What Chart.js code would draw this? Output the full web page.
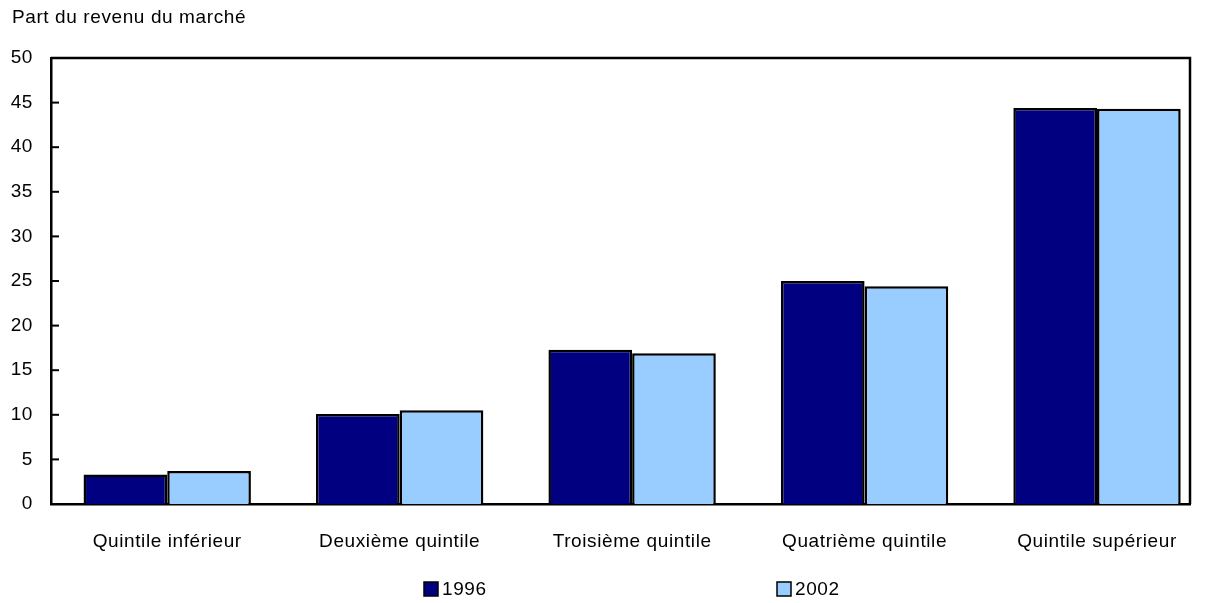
<!DOCTYPE html>
<html lang="fr">
<head>
<meta charset="utf-8">
<title>Part du revenu du marché</title>
<script src="https://cdn.jsdelivr.net/npm/chart.js@4/dist/chart.umd.min.js"></script>
<style>
  html, body { margin: 0; padding: 0; background: #fff; overflow: hidden; }
  #wrap { width: 1205px; height: 603px; }
</style>
</head>
<body>
<div id="wrap"><canvas id="chart" width="1205" height="603"></canvas></div>
<script>
// --- data ---
const categories = ['Quintile inférieur', 'Deuxième quintile', 'Troisième quintile', 'Quatrième quintile', 'Quintile supérieur'];
const values1996 = [3.3, 10.1, 17.3, 25.0, 44.4];
const values2002 = [3.7, 10.5, 16.9, 24.4, 44.3];
const seriesNames = ['1996', '2002'];
const yTicks = [0, 5, 10, 15, 20, 25, 30, 35, 40, 45, 50];
const titleText = 'Part du revenu du marché';

const FONT = { family: '"Liberation Sans", Arial, sans-serif', size: 19 };
const SPACING = '0.6px';

const toPoints = arr => arr.map((v, i) => ({ x: i, y: v }));

// frame, inward ticks, title and legend
const decor = {
  id: 'decor',
  beforeLayout(chart) { chart.ctx.letterSpacing = SPACING; },
  beforeDraw(chart) { chart.ctx.letterSpacing = SPACING; },
  afterDraw(chart) {
    const { ctx, chartArea: a, scales } = chart;
    ctx.save();
    ctx.strokeStyle = '#000';
    ctx.lineWidth = 2.5;
    ctx.beginPath();
    ctx.moveTo(a.left, a.top);
    ctx.lineTo(a.right, a.top);
    ctx.lineTo(a.right, a.bottom);
    ctx.stroke();

    // y ticks pointing into the plot
    ctx.lineWidth = 2;
    scales.y.ticks.forEach(t => {
      const y = scales.y.getPixelForValue(t.value);
      ctx.beginPath();
      ctx.moveTo(a.left, y);
      ctx.lineTo(a.left + 8, y);
      ctx.stroke();
    });

    ctx.letterSpacing = SPACING;
    ctx.fillStyle = '#000';
    ctx.font = `${FONT.size}px ${FONT.family}`;
    ctx.textBaseline = 'middle';
    ctx.textAlign = 'left';
    ctx.fillText(titleText, 12, 18);

    // legend
    const legendX = [424, 777];
    chart.data.datasets.forEach((ds, i) => {
      ctx.fillStyle = ds.backgroundColor;
      ctx.fillRect(legendX[i], 582, 14, 14);
      ctx.lineWidth = 1.5;
      ctx.strokeRect(legendX[i], 582, 14, 14);
      ctx.fillStyle = '#000';
      ctx.fillText(ds.label, legendX[i] + 18, 590);
    });
    ctx.restore();
  }
};

new Chart(document.getElementById('chart'), {
  type: 'bar',
  data: {
    datasets: [
      {
        label: seriesNames[0],
        data: toPoints(values1996),
        backgroundColor: '#000080',
        borderColor: '#000',
        borderWidth: 2.5,
        borderSkipped: 'bottom'
      },
      {
        label: seriesNames[1],
        data: toPoints(values2002),
        backgroundColor: '#99ccff',
        borderColor: '#000',
        borderWidth: 2.5,
        borderSkipped: 'bottom'
      }
    ]
  },
  options: {
    responsive: false,
    animation: false,
    events: [],
    layout: { padding: { top: 58, right: 15, left: 0, bottom: 0 } },
    datasets: { bar: { categoryPercentage: 0.72, barPercentage: 1.0 } },
    plugins: {
      legend: { display: false },
      tooltip: { enabled: false },
      title: { display: false }
    },
    scales: {
      x: {
        type: 'linear',
        offset: false,
        min: -0.5,
        max: 4.4,
        grid: { display: false, offset: false },
        border: { display: true, color: '#000', width: 2.5 },
        afterBuildTicks: s => { s.ticks = categories.map((_, i) => ({ value: i })); },
        afterFit: s => { s.height = 99; },
        ticks: {
          color: '#000',
          font: FONT,
          padding: 18,
          maxRotation: 0,
          autoSkip: false,
          callback: v => categories[v] ?? ''
        }
      },
      y: {
        min: 0,
        max: 50,
        grid: { display: false },
        border: { display: true, color: '#000', width: 2.5 },
        afterBuildTicks: s => { s.ticks = yTicks.map(v => ({ value: v })); },
        afterFit: s => { s.width = 51; },
        ticks: {
          color: '#000',
          font: FONT,
          padding: 10
        }
      }
    }
  },
  plugins: [decor]
});
</script>
</body>
</html>
